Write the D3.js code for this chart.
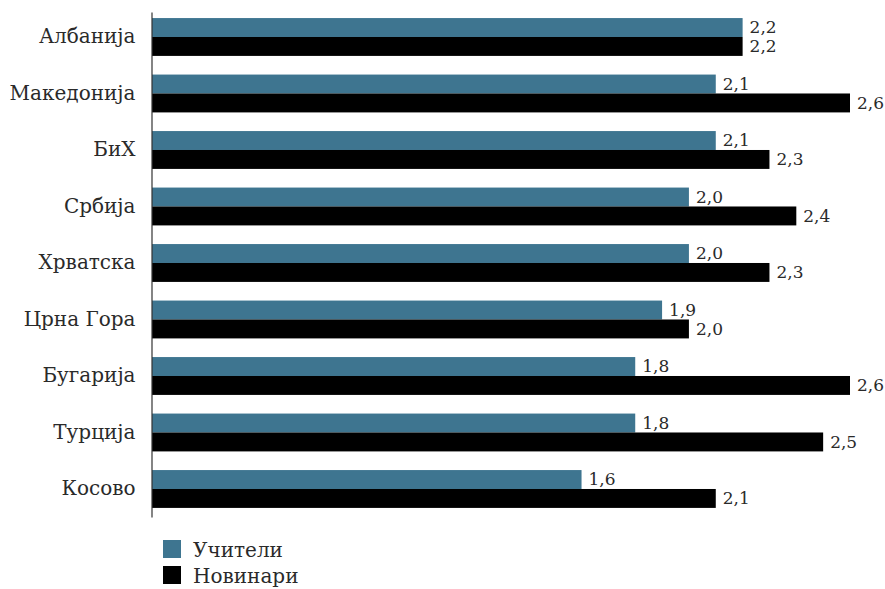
<!DOCTYPE html>
<html>
<head>
<meta charset="utf-8">
<script src="https://cdn.jsdelivr.net/npm/d3@7"></script>
<style>
  html, body { margin: 0; padding: 0; background: #fff; }
  svg { display: block; }
  text { font-family: "DejaVu Serif", serif; fill: #2a2a2a; }
</style>
</head>
<body>
<svg id="chart" width="885" height="589"></svg>
<script>
// Countries, top to bottom
const categories = ["Албанија", "Македонија", "БиХ", "Србија", "Хрватска", "Црна Гора", "Бугарија", "Турција", "Косово"];
// Average scores per group
const teachers = [2.2, 2.1, 2.1, 2.0, 2.0, 1.9, 1.8, 1.8, 1.6];
const journalists = [2.2, 2.6, 2.3, 2.4, 2.3, 2.0, 2.6, 2.5, 2.1];
const seriesNames = ["Учители", "Новинари"];
const seriesColors = ["#3e7590", "#000000"];

const svg = d3.select("#chart");

const x = d3.scaleLinear().domain([0, 2.6]).range([152, 850]);
const y = d3.scaleBand().domain(categories).range([12, 517])
  .paddingInner(0.33).paddingOuter(0.134).align(0.4);
const sub = d3.scaleBand().domain(seriesNames).range([0, y.bandwidth()]);

const fmt = v => d3.format(".1f")(v).replace(".", ",");

const rows = categories.map((c, i) => ({ c, vals: [teachers[i], journalists[i]] }));

const g = svg.append("g");
const grp = g.selectAll("g.cat").data(rows).join("g")
  .attr("transform", d => `translate(0,${y(d.c)})`);

grp.selectAll("rect").data(d => d.vals.map((v, k) => ({ v, k })))
  .join("rect")
  .attr("x", x(0))
  .attr("y", d => sub(seriesNames[d.k]))
  .attr("width", d => x(d.v) - x(0))
  .attr("height", sub.bandwidth())
  .attr("fill", d => seriesColors[d.k]);

grp.selectAll("text.val").data(d => d.vals.map((v, k) => ({ v, k })))
  .join("text")
  .attr("class", "val")
  .attr("x", d => x(d.v) + 7)
  .attr("y", d => sub(seriesNames[d.k]) + sub.bandwidth() / 2)
  .attr("dy", "0.34em")
  .style("font-size", "17px")
  .text(d => fmt(d.v));

// Category axis
const yAxis = d3.axisLeft(y).tickSize(0).tickPadding(16);
const ax = svg.append("g").attr("transform", `translate(${x(0) - 0.5},0)`).call(yAxis);
ax.select(".domain").attr("stroke", "#333").attr("stroke-width", 1.2);
ax.selectAll("text").style("font-size", "20px").attr("fill", "#2a2a2a")
  .style("font-family", '"DejaVu Serif", serif');

// Legend
const leg = svg.append("g").attr("transform", "translate(163,540)");
const li = leg.selectAll("g").data(seriesNames).join("g")
  .attr("transform", (d, i) => `translate(0,${i * 26})`);
li.append("rect").attr("width", 18).attr("height", 18).attr("fill", (d, i) => seriesColors[i]);
li.append("text").attr("x", 30).attr("y", 10).attr("dy", "0.36em")
  .style("font-size", "20px").text(d => d);
</script>
</body>
</html>
